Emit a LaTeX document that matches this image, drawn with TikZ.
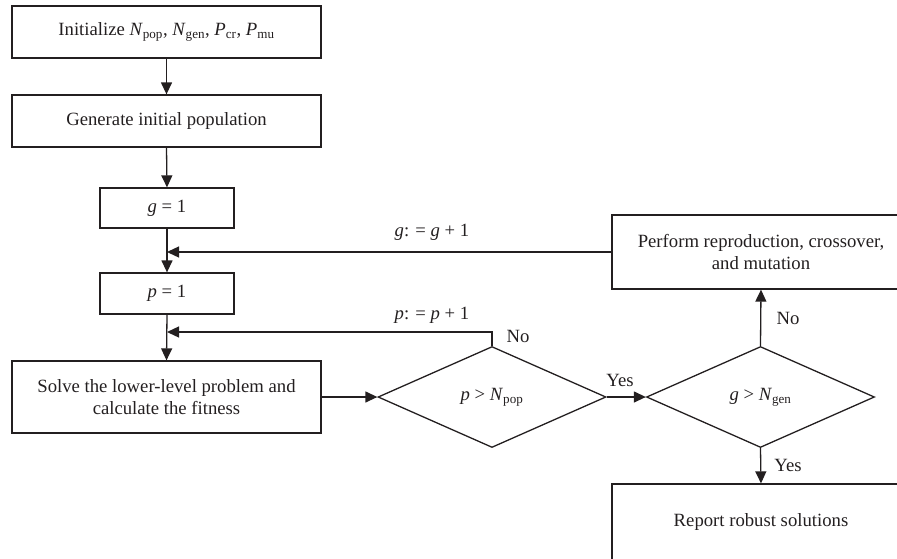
\documentclass[tikz,border=0pt]{standalone}
\usepackage{fontspec}
\setmainfont{Liberation Serif}
\usetikzlibrary{arrows.meta,shapes.geometric}
\definecolor{ink}{HTML}{231F20}
\newcommand\vsub[2]{\textit{#1}\textsubscript{#2}}
\begin{document}
\begin{tikzpicture}[x=1pt,y=-1pt,
  every node/.style={font=\fontsize{18.7}{22}\selectfont, text=ink},
  box/.style={draw=ink, line width=1.3pt, rectangle, inner sep=0pt, align=center},
  dia/.style={draw=ink, line width=1.3pt, diamond, aspect=2.25, inner sep=0pt, minimum width=228pt, minimum height=101pt},
  arr/.style={draw=ink, line width=1.3pt, -{Triangle[length=12pt,width=11pt]}},
  lbl/.style={inner sep=0pt}]
\useasboundingbox (0,0) rectangle (897,558);
\clip (0,0) rectangle (897,558);

\node[box, minimum width=309pt, minimum height=52pt] (init) at (166.5,32)
  {Initialize \vsub{N}{pop}, \vsub{N}{gen}, \vsub{P}{cr}, \vsub{P}{mu}};
\node[box, minimum width=309pt, minimum height=52pt] (gen) at (166.5,121)
  {Generate initial population};
\node[box, minimum width=134pt, minimum height=40pt] (g1) at (167,208)
  {\textit{g} = 1};
\node[box, minimum width=134pt, minimum height=41pt] (p1) at (167,293.5)
  {\textit{p} = 1};
\node[box, minimum width=309pt, minimum height=72pt] (solve) at (166.5,397)
  {Solve the lower-level problem and\\calculate the fitness};
\node[dia] (d1) at (492,397) {\textit{p} > \vsub{N}{pop}};
\node[dia] (d2) at (760.5,397) {\textit{g} > \vsub{N}{gen}};
\node[box, minimum width=298pt, minimum height=74pt] (perf) at (761,252)
  {Perform reproduction, crossover,\\and mutation};
\node[box, minimum width=298pt, minimum height=76pt] (rep) at (761,522)
  {Report robust solutions};

% labels
\node[lbl] (gl) at (432,232) {\textit{g}: = \textit{g} + 1};
\node[lbl] (pl) at (432,315) {\textit{p}: = \textit{p} + 1};
\node[lbl] (no1) at (518,336) {No};
\node[lbl] (yes1) at (620,380) {Yes};
\node[lbl] (no2) at (788,318) {No};
\node[lbl] (yes2) at (788,465) {Yes};

% connectors
\draw[arr] (init.south) -- (gen.north);
\draw[arr] (gen.south) -- (g1.north);
\draw[arr] (g1.south) -- (p1.north);
\draw[arr] (p1.south) -- (solve.north);
\draw[arr] (perf.west) -- (perf.west -| g1.south);
\coordinate (pc) at (492,332);
\draw[arr] (d1.north) -- (pc) -- (pc -| p1.south);
\draw[arr] (solve.east) -- (d1.west);
\draw[arr] (d1.east) -- (d2.west);
\draw[arr] (d2.north) -- (perf.south);
\draw[arr] (d2.south) -- (rep.north);
\end{tikzpicture}
\end{document}
